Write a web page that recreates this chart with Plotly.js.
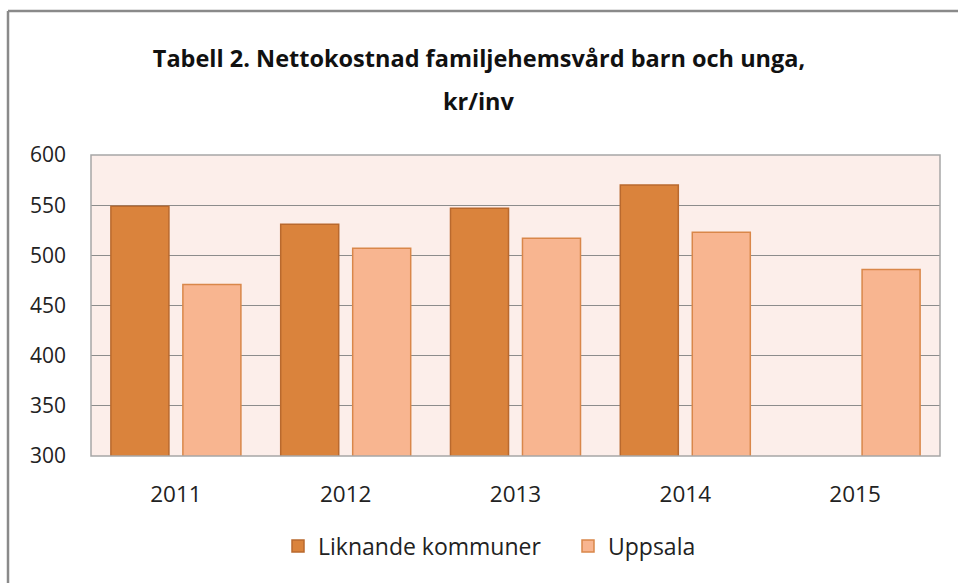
<!DOCTYPE html>
<html>
<head>
<meta charset="utf-8">
<script src="https://cdn.plot.ly/plotly-3.0.1.min.js"></script>
<style>
html,body{margin:0;padding:0;background:#fff;}
#chart{width:958px;height:583px;}
</style>
</head>
<body>
<div id="chart"></div>
<script>
const years = ['2011', '2012', '2013', '2014', '2015'];
const liknande = [549, 531, 547, 570, null];
const uppsala = [471, 507, 517, 523, 486];
const seriesNames = ['Liknande kommuner', 'Uppsala'];
const yTicks = [300, 350, 400, 450, 500, 550, 600];
const titleLines = ['Tabell 2. Nettokostnad familjehemsvård barn och unga,', 'kr/inv'];

const W = 958, H = 583;
const m = {l: 91, r: 18, t: 155, b: 127};
const pw = W - m.l - m.r, ph = H - m.t - m.b;
function px(x){ return (x - m.l) / pw; }
function py(y){ return 1 - (y - m.t) / ph; }

const font = "'Open Sans', sans-serif";

const traces = [
  {type: 'bar', x: years, y: liknande, name: seriesNames[0],
   marker: {color: '#DA833C', line: {color: '#B9692E', width: 1.5}}},
  {type: 'bar', x: years, y: uppsala, name: seriesNames[1],
   marker: {color: '#F8B590', line: {color: '#D9874A', width: 1.5}}}
];

const layout = {
  width: W, height: H,
  margin: m,
  paper_bgcolor: '#ffffff',
  plot_bgcolor: '#FCEEEA',
  barmode: 'group',
  bargap: 0.152,
  bargroupgap: 0.194,
  font: {family: font, color: '#222222', size: 21},
  title: {
    text: '<b>' + titleLines[0] + '</b>',
    x: 0.5, xref: 'container', xanchor: 'center',
    y: 1 - 59/H, yref: 'container', yanchor: 'middle',
    font: {family: font, size: 23.5, color: '#111111'}
  },
  annotations: [
    {text: '<b>' + titleLines[1] + '</b>', xref: 'paper', yref: 'paper',
     x: px(479), y: py(101), xanchor: 'center', yanchor: 'middle', showarrow: false,
     font: {family: font, size: 23.5, color: '#111111'}}
  ],
  xaxis: {
    type: 'category',
    tickfont: {family: font, size: 22.5, color: '#222222'},
    ticks: '', showline: false, showgrid: false,
    ticklabelstandoff: 22
  },
  yaxis: {
    range: [300, 600],
    tickvals: yTicks,
    tickfont: {family: font, size: 21, color: '#222222'},
    showgrid: true, gridcolor: '#8C8C8C', gridwidth: 1,
    zeroline: false, showline: false, ticks: '',
    ticklabelstandoff: 24
  },
  legend: {
    orientation: 'h',
    x: 278/W, xanchor: 'left', xref: 'container',
    y: 1 - 546/H, yref: 'container', yanchor: 'middle',
    font: {family: font, size: 23, color: '#222222'},
    itemwidth: 30,
    entrywidth: 245,
    traceorder: 'normal'
  },
  shapes: [
    {type: 'rect', xref: 'paper', yref: 'paper', x0: 0, x1: 1, y0: 0, y1: 1,
     line: {color: '#A6A6A6', width: 1.5}, fillcolor: 'rgba(0,0,0,0)', layer: 'above'},
    {type: 'line', xref: 'paper', yref: 'paper', x0: px(8), x1: px(958), y0: py(11), y1: py(11),
     line: {color: '#8A8A8A', width: 2.5}},
    {type: 'line', xref: 'paper', yref: 'paper', x0: px(8), x1: px(8), y0: py(11), y1: py(583),
     line: {color: '#8A8A8A', width: 2.5}}
  ]
};

Plotly.newPlot('chart', traces, layout, {displayModeBar: false, staticPlot: true});
</script>
</body>
</html>
